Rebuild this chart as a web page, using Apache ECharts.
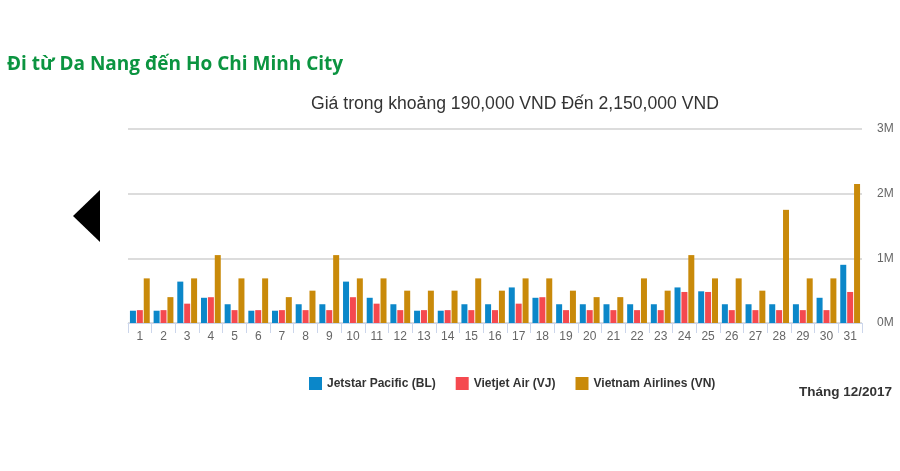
<!DOCTYPE html>
<html><head><meta charset="utf-8">
<script src="https://cdn.jsdelivr.net/npm/echarts@6/dist/echarts.min.js"></script>
<style>html,body{margin:0;padding:0;background:#fff}#c{width:900px;height:471px}</style>
</head><body><div id="c"></div>
<script>
const days = ['1','2','3','4','5','6','7','8','9','10','11','12','13','14','15','16','17','18','19','20','21','22','23','24','25','26','27','28','29','30','31'];
const jetstar = [190000,190000,640000,390000,290000,190000,190000,290000,290000,640000,390000,290000,190000,190000,290000,290000,550000,390000,290000,290000,290000,290000,290000,550000,490000,290000,290000,290000,290000,390000,900000];
const vietjet = [199000,199000,299000,399000,199000,199000,199000,199000,199000,399000,299000,199000,199000,199000,199000,199000,299000,399000,199000,199000,199000,199000,199000,480000,480000,199000,199000,199000,199000,199000,480000];
const vietnam = [690000,400000,690000,1050000,690000,690000,400000,500000,1050000,690000,690000,500000,500000,500000,690000,500000,690000,690000,500000,400000,400000,690000,500000,1050000,690000,690000,500000,1750000,690000,690000,2150000];
const seriesNames = ['Jetstar Pacific (BL)','Vietjet Air (VJ)','Vietnam Airlines (VN)'];
const colors = ['#0b87c9','#f5494f','#c98a0a'];
const yTicks = [0,1000000,2000000,3000000];

const chart = echarts.init(document.getElementById('c'));
const mk = (name, data, color) => ({
  name, type:'bar', data, barWidth:6, barGap:'15%',
  itemStyle:{color}
});
chart.setOption({
  animation:false,
  title:[
    {text:'Đi từ Da Nang đến Ho Chi Minh City', left:2, top:50,
     textStyle:{fontFamily:'Open Sans, Arial, sans-serif', fontWeight:'bold', fontSize:19, color:'#0b9440'}},
    {text:'Giá trong khoảng 190,000 VND Đến 2,150,000 VND', left:306, top:90,
     textStyle:{fontFamily:'Arial, Liberation Sans, sans-serif', fontWeight:'normal', fontSize:17.6, color:'#333'}},
    {text:'Tháng 12/2017', right:3, top:380,
     textStyle:{fontFamily:'Arial, Liberation Sans, sans-serif', fontWeight:'bold', fontSize:13.5, color:'#333'}}
  ],
  legend:{
    left:304, top:372, itemWidth:13, itemHeight:13, itemGap:20, icon:'rect',
    data:seriesNames,
    textStyle:{fontFamily:'Arial, Liberation Sans, sans-serif', fontWeight:'bold', fontSize:12, color:'#333'}
  },
  grid:{left:128, right:38, top:129, bottom:148},
  xAxis:{
    type:'category', data:days,
    axisLine:{lineStyle:{color:'#ccd6eb', width:1}},
    axisTick:{show:true, interval:0, alignWithLabel:false, length:10, lineStyle:{color:'#ccd6eb'}},
    axisLabel:{color:'#666', fontSize:12, margin:8, interval:0, fontFamily:'Arial, Liberation Sans, sans-serif'}
  },
  yAxis:{
    type:'value', position:'right', min:yTicks[0], max:yTicks[yTicks.length-1], interval:1000000,
    axisLine:{show:false}, axisTick:{show:false},
    splitLine:{lineStyle:{color:'#dcdcdc', width:2}},
    axisLabel:{color:'#666', fontSize:12, margin:15, padding:[5,0,0,0], fontFamily:'Arial, Liberation Sans, sans-serif',
      formatter:v=>(v/1000000)+'M'}
  },
  series:[mk(seriesNames[0], jetstar, colors[0]), mk(seriesNames[1], vietjet, colors[1]), mk(seriesNames[2], vietnam, colors[2])],
  graphic:[{type:'polygon', shape:{points:[[73,216],[100,190],[100,242]]}, style:{fill:'#000'}}]
});
</script></body></html>
